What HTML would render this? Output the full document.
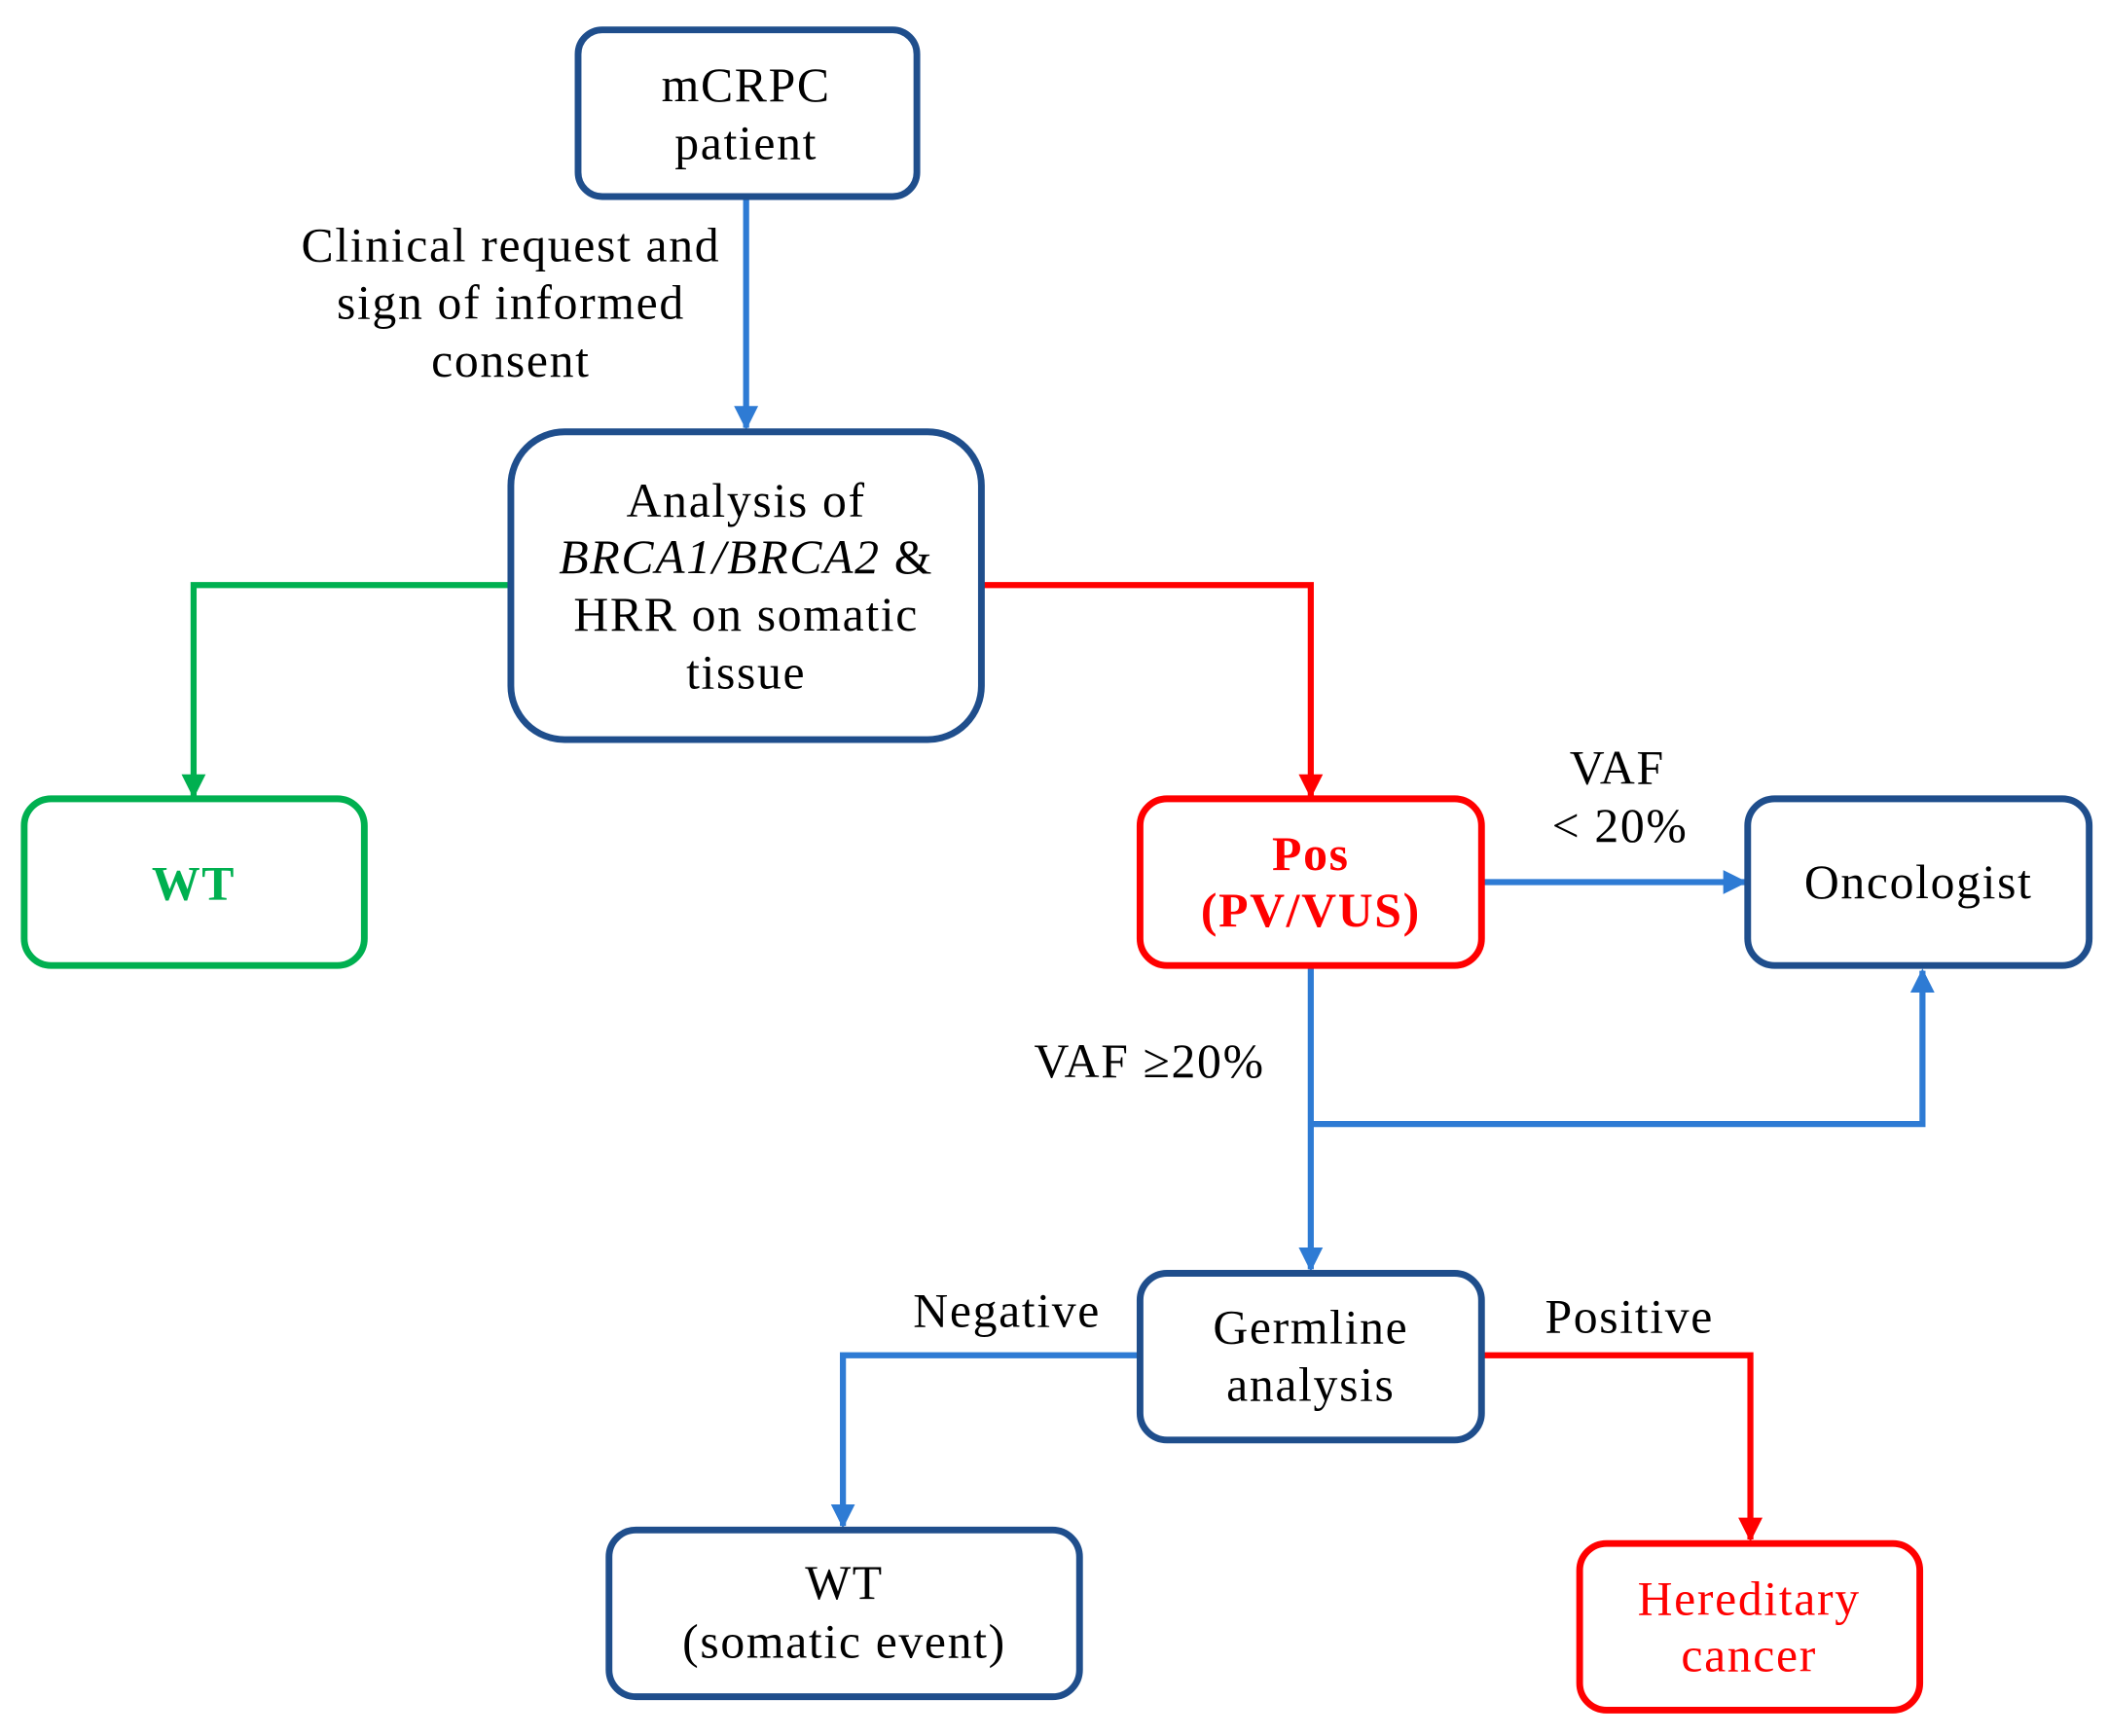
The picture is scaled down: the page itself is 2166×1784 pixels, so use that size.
<!DOCTYPE html>
<html><head><meta charset="utf-8">
<style>
html,body{margin:0;padding:0;background:#fff;}
svg{display:block;}
text{font-family:"Liberation Serif",serif;font-size:36px;letter-spacing:1.2px;text-anchor:middle;fill:#000;}
</style></head>
<body>
<svg width="2166" height="1784" viewBox="0 0 1568 1291" xmlns="http://www.w3.org/2000/svg">
<defs>
<marker id="ab" viewBox="0 0 10 10" refX="9" refY="5" markerWidth="4" markerHeight="4" orient="auto"><path d="M0,0L10,5L0,10z" fill="#2E7BD4"/></marker>
<marker id="ar" viewBox="0 0 10 10" refX="9" refY="5" markerWidth="4" markerHeight="4" orient="auto"><path d="M0,0L10,5L0,10z" fill="#FF0000"/></marker>
<marker id="ag" viewBox="0 0 10 10" refX="9" refY="5" markerWidth="4" markerHeight="4" orient="auto"><path d="M0,0L10,5L0,10z" fill="#00B050"/></marker>
</defs>
<g fill="none" stroke-width="4.5">
<path d="M555,147V318" stroke="#2E7BD4" marker-end="url(#ab)"/>
<path d="M380,435H144V592" stroke="#00B050" marker-end="url(#ag)"/>
<path d="M731,435H975V592" stroke="#FF0000" marker-end="url(#ar)"/>
<path d="M1103,656H1298" stroke="#2E7BD4" marker-end="url(#ab)"/>
<path d="M975,719V944" stroke="#2E7BD4" marker-end="url(#ab)"/>
<path d="M975,836H1430V722" stroke="#2E7BD4" marker-end="url(#ab)"/>
<path d="M848,1008H627V1135" stroke="#2E7BD4" marker-end="url(#ab)"/>
<path d="M1103,1008H1302V1145" stroke="#FF0000" marker-end="url(#ar)"/>
</g>
<g fill="#fff" stroke-width="5">
<rect x="430" y="22" width="252" height="124" rx="18" stroke="#1F4E8C"/>
<rect x="380" y="321" width="350" height="229" rx="40" stroke="#1F4E8C"/>
<rect x="18" y="594" width="253" height="124" rx="20" stroke="#00B050"/>
<rect x="848" y="594" width="254" height="124" rx="20" stroke="#FF0000"/>
<rect x="1300" y="594" width="254" height="124" rx="20" stroke="#1F4E8C"/>
<rect x="848" y="947" width="254" height="124" rx="20" stroke="#1F4E8C"/>
<rect x="453" y="1138" width="350" height="124" rx="20" stroke="#1F4E8C"/>
<rect x="1175" y="1148" width="253" height="124" rx="20" stroke="#FF0000"/>
</g>
<text x="555" y="75">mCRPC</text>
<text x="555" y="118">patient</text>
<text x="380" y="194">Clinical request and</text>
<text x="380" y="237">sign of informed</text>
<text x="380" y="280">consent</text>
<text x="555" y="384">Analysis of</text>
<text x="555" y="426"><tspan font-style="italic">BRCA1/BRCA2</tspan> &amp;</text>
<text x="555" y="469">HRR on somatic</text>
<text x="555" y="512">tissue</text>
<text x="144" y="669" font-weight="bold" style="fill:#00B050">WT</text>
<text x="975" y="647" font-weight="bold" style="fill:#FF0000">Pos</text>
<text x="975" y="689" font-weight="bold" style="fill:#FF0000">(PV/VUS)</text>
<text x="1203" y="583">VAF</text>
<text x="1205" y="626">&lt; 20%</text>
<text x="1427" y="668">Oncologist</text>
<text x="855" y="801">VAF ≥20%</text>
<text x="975" y="999">Germline</text>
<text x="975" y="1042">analysis</text>
<text x="749" y="987">Negative</text>
<text x="1212" y="991">Positive</text>
<text x="628" y="1189">WT</text>
<text x="628" y="1233">(somatic event)</text>
<text x="1301" y="1201" style="fill:#FF0000">Hereditary</text>
<text x="1301" y="1243" style="fill:#FF0000">cancer</text>
</svg>
</body></html>
